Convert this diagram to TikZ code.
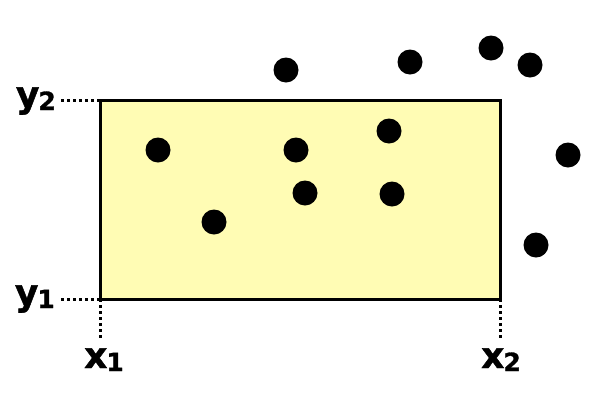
\documentclass[tikz,border=0pt]{standalone}
\usepackage{fontspec}
\setmainfont{DejaVu Sans}
\newfontfamily\heavyfont[FakeBold=1.2]{DejaVu Sans Bold}
\definecolor{boxfill}{HTML}{FFFCB4}
\tikzset{
  dot/.style={circle,fill=black,inner sep=0pt,minimum size=25pt},
  lbl/.style={font=\heavyfont\fontsize{36}{40}\selectfont,inner sep=0pt},
  guide/.style={line width=3pt,dash pattern=on 3pt off 3pt}
}
\newcommand{\sbx}[1]{\kern-1pt\raisebox{-3pt}{\fontsize{25}{27}\selectfont #1}}
\begin{document}
\begin{tikzpicture}[x=1pt,y=-1pt]
\useasboundingbox (0,0) rectangle (600,400);
\draw[line width=3pt,fill=boxfill] (100,100) rectangle (500,299);
\coordinate (c21) at (100,100);
\coordinate (c11) at (100,299);
\coordinate (c12) at (500,299);
\node[lbl,anchor=base east] (y2) at (56,107) {y\sbx{2}};
\node[lbl,anchor=base east] (y1) at (55,305) {y\sbx{1}};
\node[lbl,anchor=base] (x1) at (104,368) {x\sbx{1}};
\node[lbl,anchor=base] (x2) at (501,368) {x\sbx{2}};
\coordinate (y2e) at (61,100);
\coordinate (y1e) at (61,299);
\coordinate (x1e) at (100,338);
\coordinate (x2e) at (500,338);
\draw[guide] (y2e) -- (c21);
\draw[guide] (y1e) -- (c11);
\draw[guide] (c11) -- (x1e);
\draw[guide] (c12) -- (x2e);
\node[dot] (p1) at (158,150) {};
\node[dot] (p2) at (214,222) {};
\node[dot] (p3) at (296,150) {};
\node[dot] (p4) at (305,193) {};
\node[dot] (p5) at (389,131) {};
\node[dot] (p6) at (392,194) {};
\node[dot] (p7) at (286,70) {};
\node[dot] (p8) at (410,62) {};
\node[dot] (p9) at (491,48) {};
\node[dot] (p10) at (530,65) {};
\node[dot] (p11) at (568,155) {};
\node[dot] (p12) at (536,245) {};
\end{tikzpicture}
\end{document}
